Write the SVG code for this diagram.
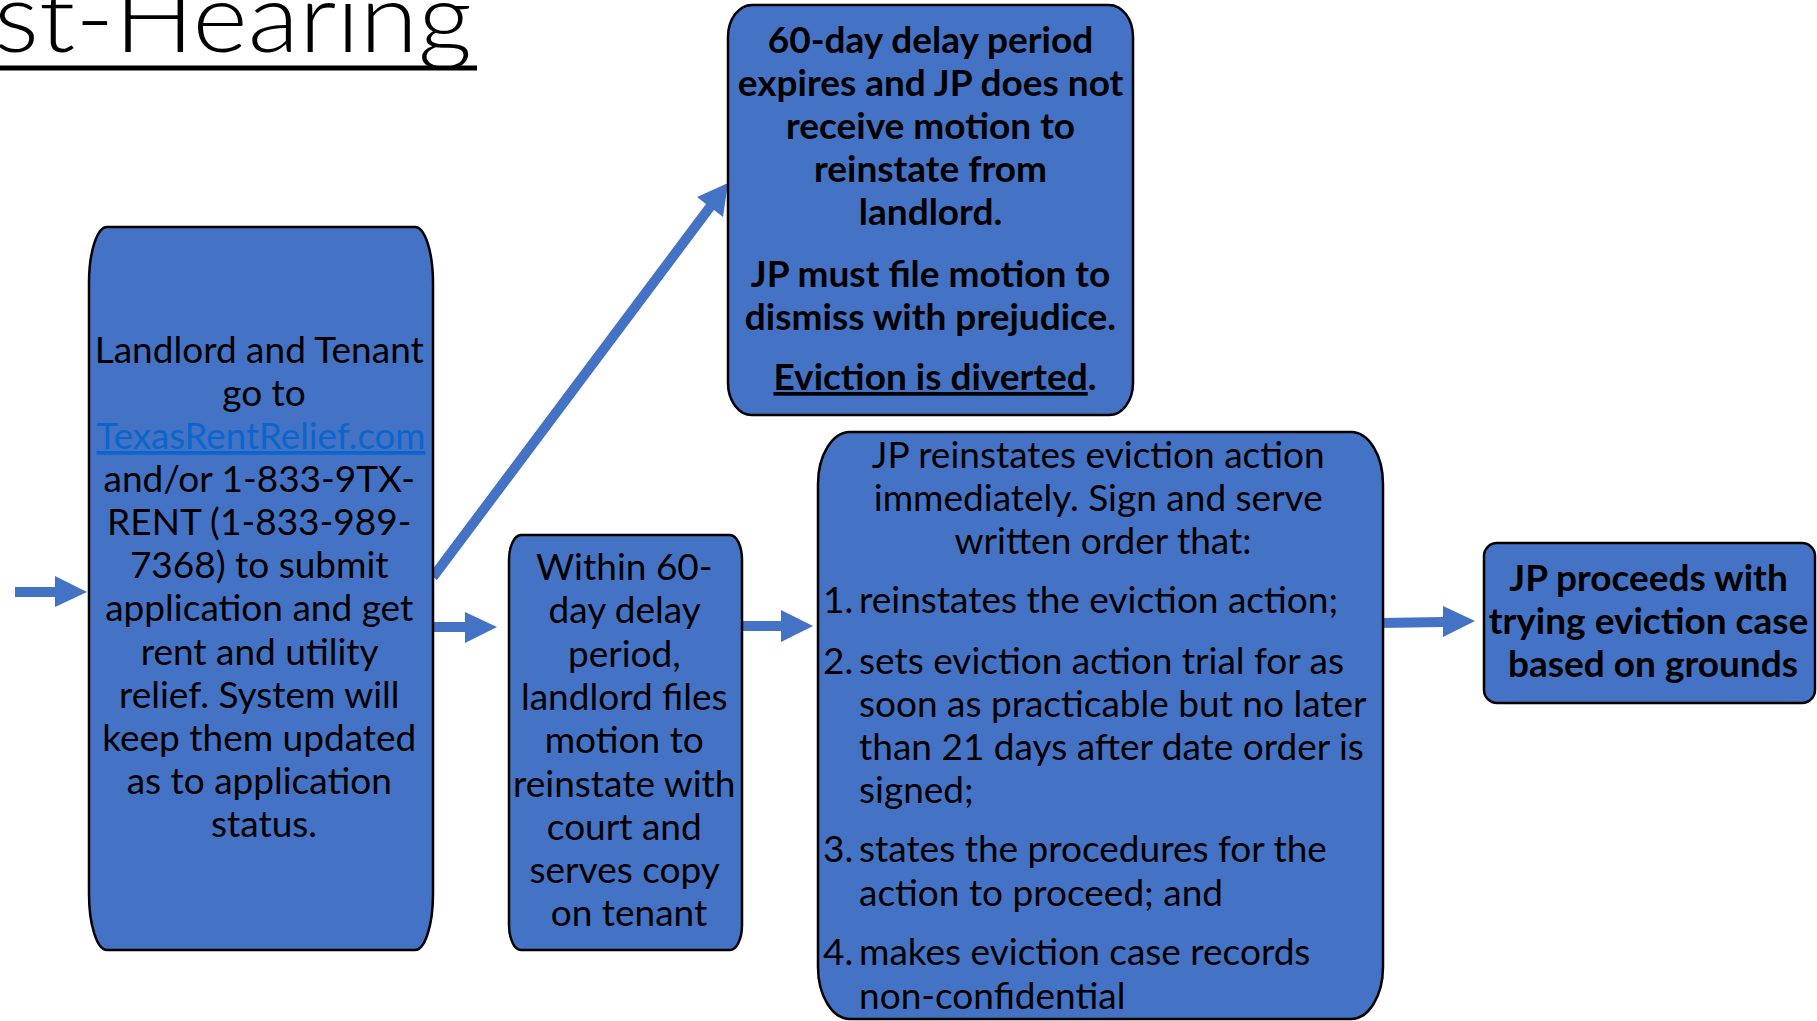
<svg xmlns="http://www.w3.org/2000/svg" width="1817" height="1021" viewBox="0 0 1817 1021">
<style>
.node{fill:#4472C4;stroke:#000;stroke-width:2.5}
.arrow{fill:#4472C4;stroke:none}
.t{font-family:Lato,"Open Sans","Liberation Sans",sans-serif;font-size:37px;fill:#000}
.c{text-anchor:middle}
.b{font-weight:bold}
.link{fill:#0A66CC;text-decoration:underline}
.u{text-decoration:underline}
.title{font-family:Lato,"Open Sans","Liberation Sans",sans-serif;font-weight:300;font-size:96px;fill:#000}
</style>
<rect width="1817" height="1021" fill="#fff"/>
<g id="title">
<text class="title" x="-6" y="52" textLength="478" lengthAdjust="spacingAndGlyphs">st-Hearing</text>
<rect x="0" y="65.5" width="477" height="5" fill="#000"/>
</g>
<g id="connectors">
<polygon class="arrow" points="15,587 55,587 55,576 87,592 55,607 55,597 15,597"/>
<polygon class="arrow" points="431,622 465,622 465,612 497,627 465,643 465,632 431,632"/>
<polygon class="arrow" points="743,621 781,621 781,610 813,626 781,642 781,631 743,631"/>
<polygon class="arrow" points="1381,618 1443,617 1443,606 1475,621 1443,637 1443,627 1381,628"/>
<polygon class="arrow" points="429,574 706,204 697,197 728,183 723,217 714,210 437,580"/>
</g>
<g id="node-apply">
<rect class="node" x="89" y="227" width="344" height="723" rx="18" ry="56"/>
<text class="t c">
<tspan x="264" y="363">Landlord and Tenant</tspan>
<tspan x="264" y="406">go to</tspan>
</text>
<text class="t c link" x="261" y="449" textLength="329" lengthAdjust="spacingAndGlyphs">TexasRentRelief.com</text>
<text class="t c">
<tspan x="264" y="492">and/or 1-833-9TX-</tspan>
<tspan x="264" y="535">RENT (1-833-989-</tspan>
<tspan x="264" y="578">7368) to submit</tspan>
<tspan x="264" y="621">application and get</tspan>
<tspan x="264" y="665">rent and utility</tspan>
<tspan x="264" y="708">relief. System will</tspan>
<tspan x="264" y="751">keep them updated</tspan>
<tspan x="264" y="794">as to application</tspan>
<tspan x="264" y="837">status.</tspan>
</text>
</g>
<g id="node-diverted">
<rect class="node" x="728" y="5" width="405" height="410" rx="24" ry="32"/>
<text class="t c b">
<tspan x="935" y="53">60-day delay period</tspan>
<tspan x="935" y="96">expires and JP does not</tspan>
<tspan x="935" y="139">receive motion to</tspan>
<tspan x="935" y="182">reinstate from</tspan>
<tspan x="935" y="225">landlord.</tspan>
<tspan x="935" y="287">JP must file motion to</tspan>
<tspan x="935" y="330">dismiss with prejudice.</tspan>
<tspan x="935" y="390"><tspan class="u">Eviction is diverted</tspan>.</tspan>
</text>
</g>
<g id="node-motion">
<rect class="node" x="509" y="535" width="233" height="415" rx="12" ry="25"/>
<text class="t c">
<tspan x="629" y="580">Within 60-</tspan>
<tspan x="629" y="623">day delay</tspan>
<tspan x="629" y="667">period,</tspan>
<tspan x="629" y="710">landlord files</tspan>
<tspan x="629" y="753">motion to</tspan>
<tspan x="629" y="797">reinstate with</tspan>
<tspan x="629" y="840">court and</tspan>
<tspan x="629" y="883">serves copy</tspan>
<tspan x="629" y="926">on tenant</tspan>
</text>
</g>
<g id="node-reinstate">
<rect class="node" x="818" y="432" width="565" height="587" rx="32" ry="52"/>
<text class="t c">
<tspan x="1103" y="468">JP reinstates eviction action</tspan>
<tspan x="1103" y="511">immediately. Sign and serve</tspan>
<tspan x="1103" y="554">written order that:</tspan>
</text>
<text class="t">
<tspan x="823" y="613">1.</tspan>
<tspan x="823" y="674">2.</tspan>
<tspan x="823" y="862">3.</tspan>
<tspan x="823" y="965">4.</tspan>
</text>
<text class="t">
<tspan x="859" y="613">reinstates the eviction action;</tspan>
<tspan x="859" y="674">sets eviction action trial for as</tspan>
<tspan x="859" y="717">soon as practicable but no later</tspan>
<tspan x="859" y="760">than 21 days after date order is</tspan>
<tspan x="859" y="803">signed;</tspan>
<tspan x="859" y="862">states the procedures for the</tspan>
<tspan x="859" y="906">action to proceed; and</tspan>
<tspan x="859" y="965">makes eviction case records</tspan>
<tspan x="859" y="1009">non-confidential</tspan>
</text>
</g>
<g id="node-trial">
<rect class="node" x="1484" y="543" width="331" height="160" rx="13" ry="13"/>
<text class="t c b">
<tspan x="1653" y="591">JP proceeds with</tspan>
<tspan x="1653" y="634">trying eviction case</tspan>
<tspan x="1653" y="677">based on grounds</tspan>
</text>
</g>
</svg>
